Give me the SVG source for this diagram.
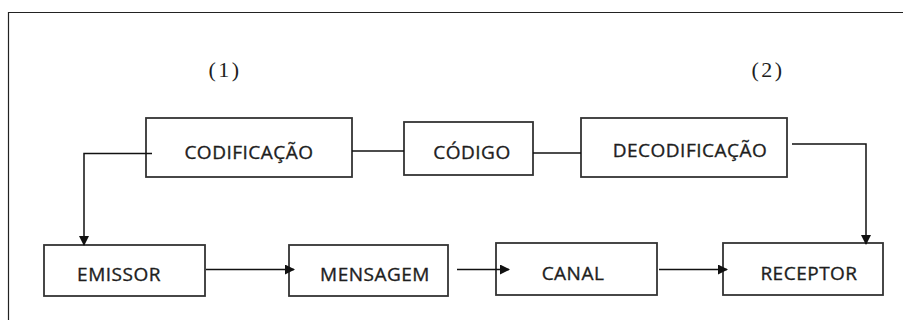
<svg xmlns="http://www.w3.org/2000/svg" width="903" height="320" viewBox="0 0 903 320">
  <style>
    .box { fill: #fff; stroke: #333; stroke-width: 1.8; }
    .lbl { font-family: "Open Sans", "Noto Sans", sans-serif; font-size: 19px; letter-spacing: 0.5px; fill: #1e1e1e; stroke: #1e1e1e; stroke-width: 0.35; text-anchor: middle; }
    .num { font-family: "Liberation Serif", serif; font-size: 22px; letter-spacing: 2.5px; fill: #1e1e1e; text-anchor: middle; }
    .wire { fill: none; stroke: #111; stroke-width: 1.5; }
  </style>
  <defs>
    <marker id="arrow" markerWidth="10" markerHeight="10" refX="9" refY="5" orient="auto" markerUnits="userSpaceOnUse">
      <path d="M0,0 L10,5 L0,10 Z" fill="#111"/>
    </marker>
  </defs>
  <rect width="903" height="320" fill="#fff"/>
  <!-- outer frame, open to the right and bottom -->
  <path d="M8.5,320 L8.5,12.5 L903,12.5" fill="none" stroke="#222" stroke-width="1.2"/>

  <text class="num" x="225" y="77">(1)</text>
  <text class="num" x="768" y="77">(2)</text>

  <g id="codificacao">
    <rect class="box" x="146" y="118" width="206" height="59"/>
    <text class="lbl" x="249" y="159">CODIFICAÇÃO</text>
  </g>
  <g id="codigo">
    <rect class="box" x="404" y="122" width="129" height="53"/>
    <text class="lbl" x="472" y="159">CÓDIGO</text>
  </g>
  <g id="decodificacao">
    <rect class="box" x="581" y="118" width="206" height="59"/>
    <text class="lbl" x="690" y="157">DECODIFICAÇÃO</text>
  </g>
  <g id="emissor">
    <rect class="box" x="44" y="245" width="161" height="51"/>
    <text class="lbl" x="119" y="281">EMISSOR</text>
  </g>
  <g id="mensagem">
    <rect class="box" x="289" y="245" width="159" height="51"/>
    <text class="lbl" x="375" y="281">MENSAGEM</text>
  </g>
  <g id="canal">
    <rect class="box" x="496" y="243" width="161" height="52"/>
    <text class="lbl" x="573" y="280">CANAL</text>
  </g>
  <g id="receptor">
    <rect class="box" x="723" y="243" width="160" height="52"/>
    <text class="lbl" x="809" y="280">RECEPTOR</text>
  </g>

  <g id="connectors">
    <path class="wire" d="M152,153.5 H84 V245" marker-end="url(#arrow)"/>
    <path class="wire" d="M352,151 H404"/>
    <path class="wire" d="M533,153 H581"/>
    <path class="wire" d="M792,144 H866 V244" marker-end="url(#arrow)"/>
    <path class="wire" d="M206,269.5 H294" marker-end="url(#arrow)"/>
    <path class="wire" d="M457,269.5 H509" marker-end="url(#arrow)"/>
    <path class="wire" d="M659,269.5 H727" marker-end="url(#arrow)"/>
  </g>
</svg>
